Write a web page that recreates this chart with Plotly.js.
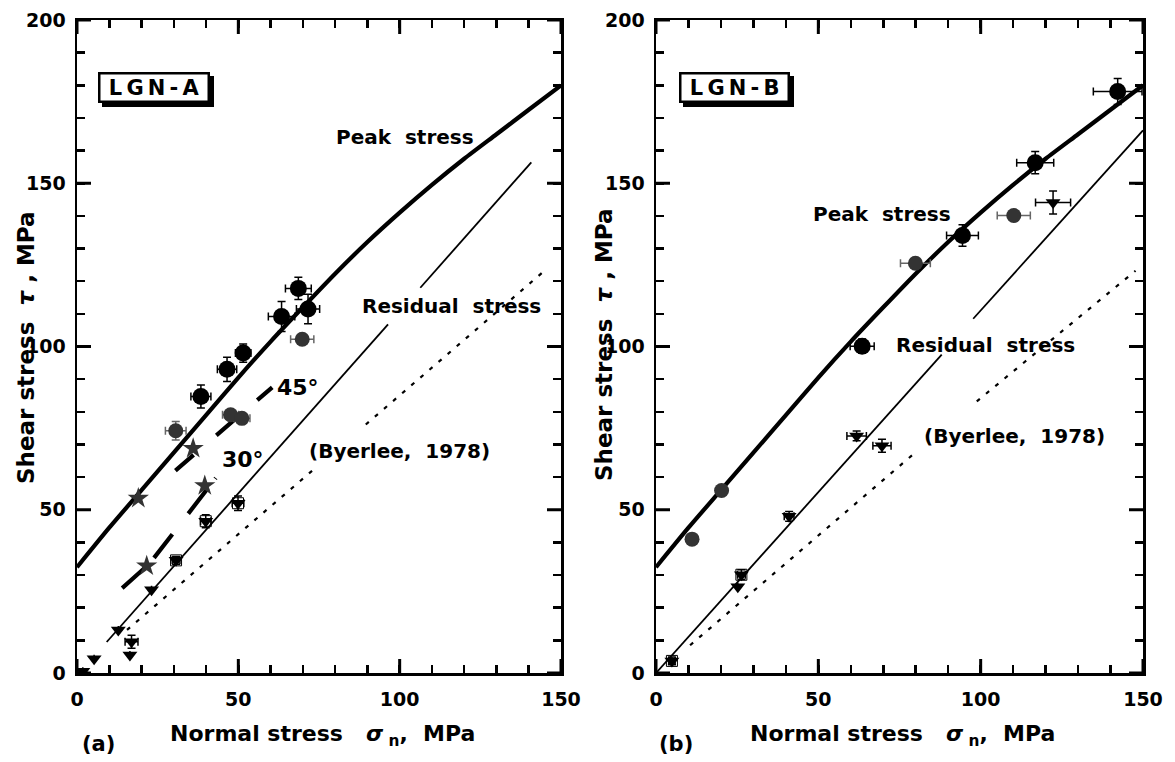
<!DOCTYPE html>
<html><head><meta charset="utf-8">
<script src="https://cdn.plot.ly/plotly-3.0.1.min.js"></script>
<style>html,body{margin:0;padding:0;background:#fff}#c{width:1175px;height:762px}</style>
</head><body><div id="c"></div>
<script>
// ---------- Data ----------
// Fitted peak envelope
const peakCurve_x = [0, 10, 20, 30, 40, 50, 60, 70, 80, 90, 100, 110, 120, 130, 140, 150];
const peakCurve_y = [32.4, 44.5, 56, 67.5, 79, 90.5, 101.5, 112, 122.3, 132, 141, 149.5, 157.5, 165, 172.5, 180];

// Panel (a) LGN-A
const resLineA_x = [9.2, 96.4, null, 106.4, 140.8];
const resLineA_y = [9.5, 106.8, null, 118.0, 156.4];
const byerA_x = [15.5, 74, null, 89.5, 144.3];
const byerA_y = [13.2, 62.9, null, 76.1, 122.7];
const d45_x = [30.5, 60.5];
const d45_y = [62.0, 87.5];
const d30_x = [14.0, 21.0, 22.5, 43.0];
const d30_y = [26.0, 32.4, 33.5, 59.7];

const peakA_x  = [38.4, 46.5, 51.5, 63.4, 68.6, 71.6];
const peakA_y  = [84.7, 93.0, 98.0, 109.2, 117.8, 111.5];
const peakA_ex = [3.1, 3.0, 2.4, 4.1, 4.0, 3.6];
const peakA_ey = [3.5, 3.7, 2.8, 4.6, 3.4, 4.5];

const grayA_x  = [30.6, 47.6, 51.1, 69.8];
const grayA_y  = [74.2, 79.1, 78.0, 102.2];
const grayA_ex = [3.2, 2.5, 2.5, 3.6];
const grayA_ey = [2.8, 1.5, 1.5, 1.5];

const starA_x = [19.0, 21.6, 36.0, 39.6];
const starA_y = [53.5, 32.8, 68.8, 57.4];

const resA_x  = [1.8, 5.3, 12.8, 16.4, 16.9, 23.1, 30.7, 39.9, 49.9];
const resA_y  = [0.5, 4.4, 13.2, 5.5, 9.6, 25.5, 34.5, 46.5, 52.0];
const resA_ex = [0, 0, 0, 0, 2.0, 0, 1.2, 1.6, 1.8];
const resA_ey = [0, 0, 0, 0, 2.0, 0, 1.2, 2.0, 2.2];
const sqA_x = [30.7, 39.9, 49.9];
const sqA_y = [34.5, 46.5, 52.0];

// Panel (b) LGN-B
const resLineB_x = [0, 88, null, 97.7, 150];
const resLineB_y = [0, 97.5, null, 108.5, 166.2];
const byerB_x = [10.5, 80.3, null, 98.8, 147.7];
const byerB_y = [8.5, 67.9, null, 83.2, 123.2];

const peakB_x  = [63.5, 94.4, 116.8, 142.2];
const peakB_y  = [100.1, 134.0, 156.3, 178.1];
const peakB_ex = [3.7, 4.9, 5.7, 7.5];
const peakB_ey = [2.2, 3.3, 3.4, 4.0];

const grayB_x  = [11.1, 20.2, 79.9, 110.2];
const grayB_y  = [41.0, 55.9, 125.5, 140.1];
const grayB_ex = [0, 0, 4.6, 5.1];
const grayB_ey = [0, 0, 1.5, 1.5];

const resB_x  = [4.9, 25.2, 26.3, 41.0, 61.8, 69.6, 122.3];
const resB_y  = [3.7, 26.4, 30.1, 48.0, 72.6, 69.6, 144.1];
const resB_ex = [1.0, 0, 1.2, 1.5, 3.0, 2.8, 5.4];
const resB_ey = [1.2, 0, 1.5, 1.5, 1.5, 2.0, 3.5];
const sqB_x = [4.9, 26.3];
const sqB_y = [3.7, 30.1];

const xRange = [0, 150], yRange = [0, 200];
const majorStep = 50, minorStep = 10;

// ---------- Styling ----------
const FONT = "DejaVu Sans";
const BLACK = "#000";
const GRAY = "#333";

function line(x, y, xa, ya, width, dash, shape) {
  return {x, y, xaxis: xa, yaxis: ya, type: 'scatter', mode: 'lines',
    line: {color: BLACK, width, dash: dash || 'solid', shape: shape || 'linear', smoothing: 0.6},
    connectgaps: false, hoverinfo: 'skip'};
}
function pts(x, y, xa, ya, symbol, size, color, ex, ey, ecol) {
  const t = {x, y, xaxis: xa, yaxis: ya, type: 'scatter', mode: 'markers',
    marker: {symbol, size, color, line: {width: 0}}, hoverinfo: 'skip'};
  if (ex) t.error_x = {type: 'data', array: ex, visible: true, color: ecol || BLACK, thickness: 1.5, width: 4};
  if (ey) t.error_y = {type: 'data', array: ey, visible: true, color: ecol || BLACK, thickness: 1.5, width: 4};
  return t;
}

const traces = [
  // panel a
  line(peakCurve_x, peakCurve_y, 'x', 'y', 4.2, null, 'spline'),
  line(resLineA_x, resLineA_y, 'x', 'y', 1.8),
  line(byerA_x, byerA_y, 'x', 'y', 2.2, '4px,8px'),
  line(d45_x, d45_y, 'x', 'y', 4.2, '24px,30px'),
  line(d30_x, d30_y, 'x', 'y', 4.2, '32px,12px,30px,26px'),
  pts(grayA_x, grayA_y, 'x', 'y', 'circle', 15, GRAY, grayA_ex, grayA_ey, '#666'),
  pts(starA_x, starA_y, 'x', 'y', 'star', 16, GRAY),
  pts(sqA_x, sqA_y, 'x', 'y', 'square-open', 11, BLACK),
  pts(resA_x, resA_y, 'x', 'y', 'triangle-down', 13, BLACK, resA_ex, resA_ey),
  pts(peakA_x, peakA_y, 'x', 'y', 'circle', 17, BLACK, peakA_ex, peakA_ey),
  // panel b
  line(peakCurve_x, peakCurve_y, 'x2', 'y2', 4.2, null, 'spline'),
  line(resLineB_x, resLineB_y, 'x2', 'y2', 1.8),
  line(byerB_x, byerB_y, 'x2', 'y2', 2.2, '4px,8px'),
  pts(grayB_x, grayB_y, 'x2', 'y2', 'circle', 15, GRAY, grayB_ex, grayB_ey, '#666'),
  pts(sqB_x, sqB_y, 'x2', 'y2', 'square-open', 11, BLACK),
  pts(resB_x, resB_y, 'x2', 'y2', 'triangle-down', 13, BLACK, resB_ex, resB_ey),
  pts(peakB_x, peakB_y, 'x2', 'y2', 'circle', 17, BLACK, peakB_ex, peakB_ey)
];

// tick values every minorStep; labels only on majorStep
function tickSet(rng) {
  const vals = [];
  for (let v = rng[0]; v <= rng[1] + 1e-9; v += minorStep) vals.push(v);
  return {vals, text: vals.map(v => (v % majorStep === 0 ? String(v) : ''))};
}
function ax(domain, anchor, rng, standoff) {
  const t = tickSet(rng);
  return {domain, anchor, range: rng, tickmode: 'array', tickvals: t.vals, ticktext: t.text,
    ticks: 'inside', ticklen: 8, tickwidth: 2.5, tickcolor: BLACK,
    showline: true, linewidth: 2.5, linecolor: BLACK, mirror: 'ticks', showgrid: false, zeroline: false,
    tickfont: {family: FONT, size: 19, color: BLACK, weight: 'bold'}, ticklabelstandoff: standoff};
}

// long ticks at major values (pixel-length shapes anchored on the axis edges)
function majorTicks(xa, ya) {
  const s = [];
  const L = 14, st = {color: BLACK, width: 3};
  for (let v = xRange[0]; v <= xRange[1]; v += majorStep) {
    s.push({type: 'line', xref: xa, yref: ya, x0: v, x1: v, ysizemode: 'pixel', yanchor: yRange[0], y0: 0, y1: L, line: st});
    s.push({type: 'line', xref: xa, yref: ya, x0: v, x1: v, ysizemode: 'pixel', yanchor: yRange[1], y0: 0, y1: -L, line: st});
  }
  for (let v = yRange[0]; v <= yRange[1]; v += majorStep) {
    s.push({type: 'line', xref: xa, yref: ya, y0: v, y1: v, xsizemode: 'pixel', xanchor: xRange[0], x0: 0, x1: L, line: st});
    s.push({type: 'line', xref: xa, yref: ya, y0: v, y1: v, xsizemode: 'pixel', xanchor: xRange[1], x0: 0, x1: -L, line: st});
  }
  return s;
}

const W = 1175, H = 762;
const yDom = [(H - 673) / H, (H - 20) / H];
const nb = '\u00a0', th = '\u2009';
const tf = (s) => ({family: FONT, size: s, color: BLACK, weight: 'bold'});

function boxLabel(text, xref, yref, x, y) {
  const common = {xref, yref, x, y, text, showarrow: false, font: tf(21), borderwidth: 2.5, borderpad: 1, xanchor: 'center', yanchor: 'middle'};
  return [
    Object.assign({}, common, {bgcolor: BLACK, bordercolor: BLACK, xshift: 4, yshift: -4}),
    Object.assign({}, common, {bgcolor: '#fff', bordercolor: BLACK})
  ];
}
const spaced = (s) => nb + s.split('').join(th) + nb;
const xTitle = 'Normal' + nb + 'stress' + nb + nb + nb + '<i>σ</i><sub>' + nb + 'n</sub>,' + nb + nb + 'MPa';
const yTitle = 'Shear' + nb + 'stress' + nb + nb + '<i>τ</i>' + nb + ',' + nb + 'MPa';

const annotations = [
  ...boxLabel(spaced('LGN-A'), 'x', 'y', 23.8, 179.4),
  ...boxLabel(spaced('LGN-B'), 'x2', 'y2', 24.3, 179.2),
  {xref: 'x', yref: 'y', x: 101.6, y: 164.2, text: 'Peak' + nb + nb + 'stress', showarrow: false, font: tf(20)},
  {xref: 'x', yref: 'y', x: 116.1, y: 112.3, text: 'Residual' + nb + nb + 'stress', showarrow: false, font: tf(20)},
  {xref: 'x', yref: 'y', x: 68.5, y: 87.3, text: '45°', showarrow: false, font: tf(22)},
  {xref: 'x', yref: 'y', x: 51.5, y: 65.5, text: '30°', showarrow: false, font: tf(22)},
  {xref: 'x', yref: 'y', x: 99.8, y: 68.0, text: '(Byerlee,' + nb + nb + '1978)', showarrow: false, font: tf(20)},
  {xref: 'x2', yref: 'y2', x: 69.6, y: 140.7, text: 'Peak' + nb + nb + 'stress', showarrow: false, font: tf(20)},
  {xref: 'x2', yref: 'y2', x: 101.6, y: 100.6, text: 'Residual' + nb + nb + 'stress', showarrow: false, font: tf(20)},
  {xref: 'x2', yref: 'y2', x: 110.3, y: 72.6, text: '(Byerlee,' + nb + nb + '1978)', showarrow: false, font: tf(20)},
  // axis titles and panel letters
  {xref: 'paper', yref: 'paper', x: 322 / W, y: (H - 735) / H, text: xTitle, showarrow: false, font: tf(22), xanchor: 'center', yanchor: 'middle'},
  {xref: 'paper', yref: 'paper', x: 902 / W, y: (H - 735) / H, text: xTitle, showarrow: false, font: tf(22), xanchor: 'center', yanchor: 'middle'},
  {xref: 'paper', yref: 'paper', x: 26 / W, y: (H - 348) / H, text: yTitle, showarrow: false, font: tf(23), textangle: -90, xanchor: 'center', yanchor: 'middle'},
  {xref: 'paper', yref: 'paper', x: 604 / W, y: (H - 345) / H, text: yTitle, showarrow: false, font: tf(23), textangle: -90, xanchor: 'center', yanchor: 'middle'},
  {xref: 'paper', yref: 'paper', x: 98 / W, y: (H - 744) / H, text: '(a)', showarrow: false, font: tf(21), xanchor: 'center', yanchor: 'middle'},
  {xref: 'paper', yref: 'paper', x: 676 / W, y: (H - 744) / H, text: '(b)', showarrow: false, font: tf(21), xanchor: 'center', yanchor: 'middle'}
];

const layout = {
  width: W, height: H, margin: {l: 0, r: 0, t: 0, b: 0}, showlegend: false,
  paper_bgcolor: '#fff', plot_bgcolor: '#fff',
  xaxis: ax([77 / W, 561 / W], 'y', xRange, 8),
  yaxis: ax(yDom, 'x', yRange, 5),
  xaxis2: ax([656 / W, 1143 / W], 'y2', xRange, 8),
  yaxis2: ax(yDom, 'x2', yRange, 5),
  shapes: [...majorTicks('x', 'y'), ...majorTicks('x2', 'y2')],
  annotations
};

Plotly.newPlot('c', traces, layout, {staticPlot: true, displayModeBar: false});
</script></body></html>
